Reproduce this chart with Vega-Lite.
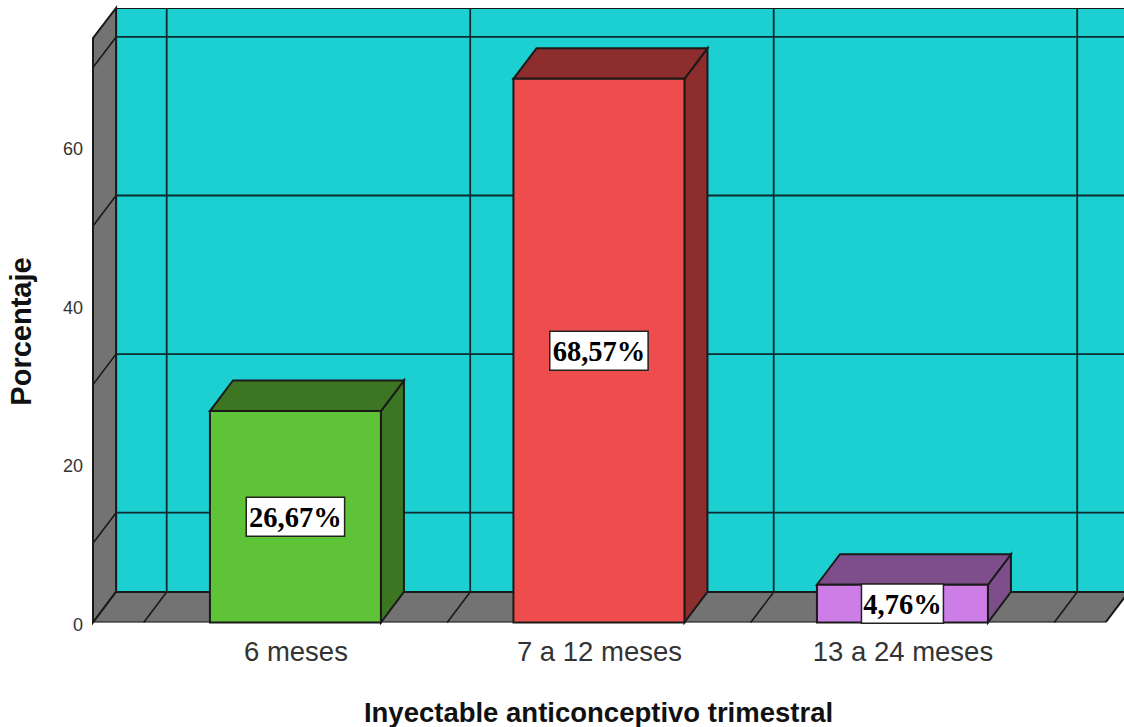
{
  "$schema": "https://vega.github.io/schema/vega-lite/v6.json",
  "width": 1031,
  "height": 614.5,
  "autosize": "none",
  "padding": {"left": 93, "top": 8, "right": 0, "bottom": 104.5},
  "background": "white",
  "config": {"view": {"stroke": null}},
  "datasets": {
    "barras": [
      {"categoria": "6 meses", "orden": 1, "porcentaje": 26.67, "etiqueta": "26,67%", "profundidad": [0, 1]},
      {"categoria": "7 a 12 meses", "orden": 2, "porcentaje": 68.57, "etiqueta": "68,57%", "profundidad": [0, 1]},
      {"categoria": "13 a 24 meses", "orden": 3, "porcentaje": 4.76, "etiqueta": "4,76%", "profundidad": [0, 1]}
    ],
    "paredIzq": [
      {"px": 0.333, "abajo": 0, "arriba": 73.7},
      {"px": 0.409, "abajo": 3.85, "arriba": 77.5}
    ],
    "suelo": [
      {"py": 0, "izq": 0.333, "der": 3.669},
      {"py": 3.85, "izq": 0.409, "der": 3.745}
    ],
    "fondo": [{"izq": 0.409, "der": 3.745, "abajo": 3.85, "arriba": 77.5}],
    "niveles": [{"nivel": 10}, {"nivel": 30}, {"nivel": 50}, {"nivel": 70}],
    "limites": [{"limite": 0.5}, {"limite": 1.5}, {"limite": 2.5}, {"limite": 3.5}]
  },
  "layer": [
    {
      "data": {"name": "fondo"},
      "mark": {"type": "rect", "fill": "#1ccfd1", "stroke": "#1a1a1a", "strokeWidth": 2, "clip": true},
      "encoding": {
        "x": {
          "field": "izq", "type": "quantitative",
          "scale": {"domain": [0.333, 3.73], "nice": false, "zero": false},
          "axis": {
            "title": "Inyectable anticonceptivo trimestral",
            "titleFont": "Liberation Sans", "titleFontSize": 27.5, "titleFontWeight": "bold", "titleColor": "#111111",
            "titleX": 505, "titleY": 98.5, "titleBaseline": "alphabetic",
            "values": [1, 2, 3],
            "labelExpr": "datum.value == 1 ? '6 meses' : datum.value == 2 ? '7 a 12 meses' : '13 a 24 meses'",
            "labelFont": "Liberation Sans", "labelFontSize": 27.5, "labelColor": "#333333", "labelPadding": 16, "labelLimit": 400,
            "ticks": false, "domain": false, "grid": false
          }
        },
        "x2": {"field": "der"},
        "y": {
          "field": "abajo", "type": "quantitative",
          "scale": {"domain": [0, 77.5], "nice": false, "zero": false},
          "axis": {
            "title": "Porcentaje",
            "titleFont": "Liberation Sans", "titleFontSize": 29, "titleFontWeight": "bold", "titleColor": "#111111",
            "titleX": -57, "titleY": 323,
            "values": [0, 20, 40, 60],
            "labelFont": "Liberation Sans", "labelFontSize": 18, "labelColor": "#333333", "labelPadding": 10.5, "labelOffset": 3,
            "ticks": false, "domain": false, "grid": false
          }
        },
        "y2": {"field": "arriba"}
      }
    },
    {
      "data": {"name": "paredIzq"},
      "mark": {"type": "area", "fill": "#737373", "stroke": "#1a1a1a", "strokeWidth": 2},
      "encoding": {
        "x": {"field": "px", "type": "quantitative"},
        "y": {"field": "abajo", "type": "quantitative"},
        "y2": {"field": "arriba"}
      }
    },
    {
      "data": {"name": "suelo"},
      "mark": {"type": "area", "orient": "horizontal", "fill": "#737373", "stroke": "#1a1a1a", "strokeWidth": 2, "clip": true},
      "encoding": {
        "y": {"field": "py", "type": "quantitative"},
        "x": {"field": "izq", "type": "quantitative"},
        "x2": {"field": "der"}
      }
    },
    {
      "data": {"name": "niveles"},
      "transform": [
        {"calculate": "datum.nivel + 3.85", "as": "atras"},
        {"calculate": "0.409", "as": "xa"},
        {"calculate": "3.745", "as": "xb"}
      ],
      "mark": {"type": "rule", "stroke": "#0d2b2e", "strokeWidth": 1.8, "clip": true},
      "encoding": {
        "x": {"field": "xa", "type": "quantitative"},
        "x2": {"field": "xb"},
        "y": {"field": "atras", "type": "quantitative"}
      }
    },
    {
      "data": {"name": "niveles"},
      "transform": [
        {"calculate": "datum.nivel + 3.85", "as": "atras"},
        {"calculate": "0.333", "as": "xa"},
        {"calculate": "0.409", "as": "xb"}
      ],
      "mark": {"type": "rule", "stroke": "#1a1a1a", "strokeWidth": 1.6},
      "encoding": {
        "x": {"field": "xa", "type": "quantitative"},
        "x2": {"field": "xb"},
        "y": {"field": "nivel", "type": "quantitative"},
        "y2": {"field": "atras"}
      }
    },
    {
      "data": {"name": "limites"},
      "transform": [
        {"calculate": "datum.limite + 0.0758", "as": "atras"},
        {"calculate": "3.85", "as": "ya"},
        {"calculate": "77.5", "as": "yb"}
      ],
      "mark": {"type": "rule", "stroke": "#0d2b2e", "strokeWidth": 1.8},
      "encoding": {
        "x": {"field": "atras", "type": "quantitative"},
        "y": {"field": "ya", "type": "quantitative"},
        "y2": {"field": "yb"}
      }
    },
    {
      "data": {"name": "limites"},
      "transform": [
        {"calculate": "datum.limite + 0.0758", "as": "atras"},
        {"calculate": "0", "as": "ya"},
        {"calculate": "3.85", "as": "yb"}
      ],
      "mark": {"type": "rule", "stroke": "#1a1a1a", "strokeWidth": 1.6},
      "encoding": {
        "x": {"field": "limite", "type": "quantitative"},
        "x2": {"field": "atras"},
        "y": {"field": "ya", "type": "quantitative"},
        "y2": {"field": "yb"}
      }
    },
    {
      "data": {"name": "barras"},
      "transform": [
        {"flatten": ["profundidad"]},
        {"calculate": "datum.orden + 0.2817 + 0.0758 * datum.profundidad", "as": "lx"},
        {"calculate": "3.85 * datum.profundidad", "as": "ly0"},
        {"calculate": "datum.porcentaje + 3.85 * datum.profundidad", "as": "ly1"}
      ],
      "mark": {"type": "area", "stroke": "#1a1a1a", "strokeWidth": 2},
      "encoding": {
        "detail": {"field": "categoria"},
        "x": {"field": "lx", "type": "quantitative"},
        "y": {"field": "ly0", "type": "quantitative"},
        "y2": {"field": "ly1"},
        "fill": {
          "field": "categoria", "type": "nominal", "legend": null,
          "scale": {"domain": ["6 meses", "7 a 12 meses", "13 a 24 meses"], "range": ["#3c7623", "#8e2d2d", "#7d4e8a"]}
        }
      }
    },
    {
      "data": {"name": "barras"},
      "transform": [
        {"flatten": ["profundidad"]},
        {"calculate": "datum.orden - 0.2817 + 0.0758 * datum.profundidad", "as": "tx0"},
        {"calculate": "datum.orden + 0.2817 + 0.0758 * datum.profundidad", "as": "tx1"},
        {"calculate": "datum.porcentaje + 3.85 * datum.profundidad", "as": "ty"}
      ],
      "mark": {"type": "area", "orient": "horizontal", "stroke": "#1a1a1a", "strokeWidth": 2},
      "encoding": {
        "detail": {"field": "categoria"},
        "y": {"field": "ty", "type": "quantitative"},
        "x": {"field": "tx0", "type": "quantitative"},
        "x2": {"field": "tx1"},
        "fill": {
          "field": "categoria", "type": "nominal", "legend": null,
          "scale": {"domain": ["6 meses", "7 a 12 meses", "13 a 24 meses"], "range": ["#3c7623", "#8e2d2d", "#7d4e8a"]}
        }
      }
    },
    {
      "data": {"name": "barras"},
      "transform": [
        {"calculate": "datum.orden - 0.2817", "as": "fx0"},
        {"calculate": "datum.orden + 0.2817", "as": "fx1"},
        {"calculate": "0", "as": "base"}
      ],
      "mark": {"type": "rect", "stroke": "#1a1a1a", "strokeWidth": 2},
      "encoding": {
        "x": {"field": "fx0", "type": "quantitative"},
        "x2": {"field": "fx1"},
        "y": {"field": "base", "type": "quantitative"},
        "y2": {"field": "porcentaje"},
        "fill": {
          "field": "categoria", "type": "nominal", "legend": null,
          "scale": {"domain": ["6 meses", "7 a 12 meses", "13 a 24 meses"], "range": ["#5fc337", "#ef4d4d", "#cc7ee6"]}
        }
      }
    },
    {
      "data": {"name": "barras"},
      "transform": [
        {"calculate": "datum.orden - 0.027 * length(datum.etiqueta)", "as": "cx0"},
        {"calculate": "datum.orden + 0.027 * length(datum.etiqueta)", "as": "cx1"},
        {"calculate": "datum.porcentaje / 2 - 2.46", "as": "cy0"},
        {"calculate": "datum.porcentaje / 2 + 2.46", "as": "cy1"}
      ],
      "mark": {"type": "rect", "fill": "white", "stroke": "#222222", "strokeWidth": 1.5},
      "encoding": {
        "x": {"field": "cx0", "type": "quantitative"},
        "x2": {"field": "cx1"},
        "y": {"field": "cy0", "type": "quantitative"},
        "y2": {"field": "cy1"}
      }
    },
    {
      "data": {"name": "barras"},
      "transform": [{"calculate": "datum.porcentaje / 2", "as": "my"}],
      "mark": {"type": "text", "font": "Liberation Serif", "fontWeight": "bold", "fontSize": 28.5, "color": "#000000", "align": "center", "baseline": "middle", "dy": 1},
      "encoding": {
        "x": {"field": "orden", "type": "quantitative"},
        "y": {"field": "my", "type": "quantitative"},
        "text": {"field": "etiqueta", "type": "nominal"}
      }
    }
  ],
  "resolve": {"scale": {"fill": "independent"}}
}
